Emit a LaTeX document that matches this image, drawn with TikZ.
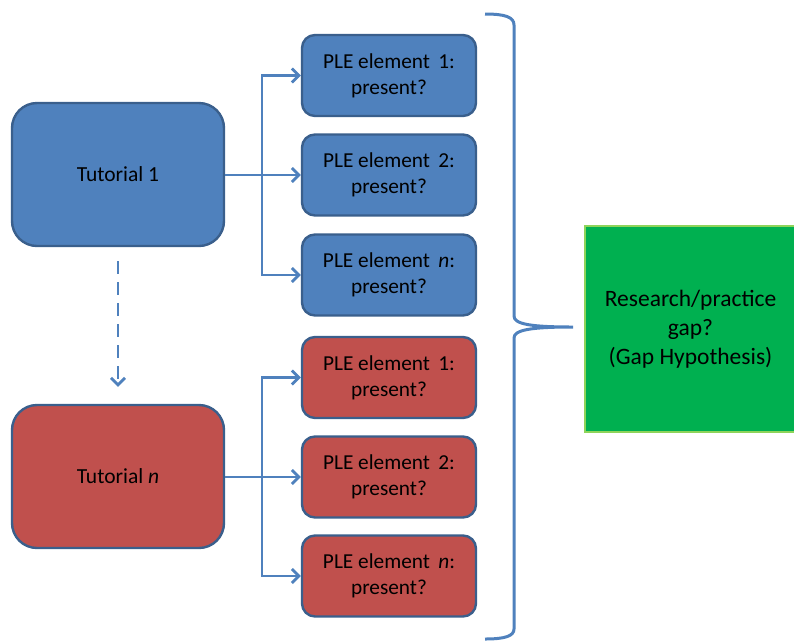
\documentclass[tikz,border=0pt]{standalone}
\usepackage{fontspec}
\setmainfont{Carlito}
\usetikzlibrary{arrows.meta}
\definecolor{boxblue}{HTML}{4F81BD}
\definecolor{boxred}{HTML}{C0504D}
\definecolor{edgeblue}{HTML}{3A5F8C}
\definecolor{linkblue}{HTML}{4F81BD}
\definecolor{gapgreen}{HTML}{00B050}
\definecolor{gapedge}{HTML}{8ED45A}
\tikzset{
  tutbox/.style={draw=edgeblue, line width=2.4pt, rounded corners=25pt, minimum width=212pt, minimum height=143pt, align=center, inner sep=0pt, font=\fontsize{21.5}{26}\selectfont},
  plebox/.style={draw=edgeblue, line width=2.4pt, rounded corners=13pt, minimum width=174pt, minimum height=81pt, align=center, inner sep=0pt, font=\fontsize{21.3}{26}\selectfont},
  gapbox/.style={draw=gapedge, fill=gapgreen, line width=2.4pt, minimum width=211pt, minimum height=206pt, align=center, inner sep=0pt, font=\fontsize{23.5}{29}\selectfont},
  link/.style={draw=linkblue, line width=2.8pt, -{Straight Barb[length=7pt,width=14pt,line width=2.8pt]}},
  bracestyle/.style={draw=linkblue, line width=3pt}
}
\begin{document}
\begin{tikzpicture}[x=1pt,y=-1pt]
\useasboundingbox (0,0) rectangle (794,641);
% Tutorials
\node[tutbox, fill=boxblue] (t1) at (118,174.5) {Tutorial 1};
\node[tutbox, fill=boxred] (tn) at (118,476.5) {Tutorial \textit{n}};
% PLE boxes (blue)
\node[plebox, fill=boxblue] (b1) at (389,75.5) {PLE element\, 1:\\present?};
\node[plebox, fill=boxblue] (b2) at (389,175) {PLE element\, 2:\\present?};
\node[plebox, fill=boxblue] (b3) at (389,275) {PLE element\, \textit{n}:\\present?};
% PLE boxes (red)
\node[plebox, fill=boxred] (r1) at (389,377.5) {PLE element\, 1:\\present?};
\node[plebox, fill=boxred] (r2) at (389,477) {PLE element\, 2:\\present?};
\node[plebox, fill=boxred] (r3) at (389,576) {PLE element\, \textit{n}:\\present?};
% Gap box
\node[gapbox] (gap) at (690.5,329) {Research/practice\\gap?\\(Gap Hypothesis)};
% junctions
\coordinate (j1) at (262,175);
\coordinate (j2) at (262,477);
% connectors top
\draw[link] (t1.east |- j1) -- (b2.west);
\draw[link] (j1) |- (b1.west);
\draw[link] (j1) |- (b3.west);
% connectors bottom
\draw[link] (tn.east |- j2) -- (r2.west);
\draw[link] (j2) |- (r1.west);
\draw[link] (j2) |- (r3.west);
% dashed
\draw[link, dash pattern=on 13pt off 8pt, shorten <=14pt, shorten >=17pt] (t1.south) -- (tn.north);
% brace
\draw[bracestyle] (485,14) .. controls (505,14) and (514,17) .. (514,25)
  -- (514,316) .. controls (514,324) and (530,327) .. (573,327)
  .. controls (530,327) and (514,330) .. (514,338)
  -- (514,629) .. controls (514,636) and (505,639) .. (485,639);
\end{tikzpicture}
\end{document}
